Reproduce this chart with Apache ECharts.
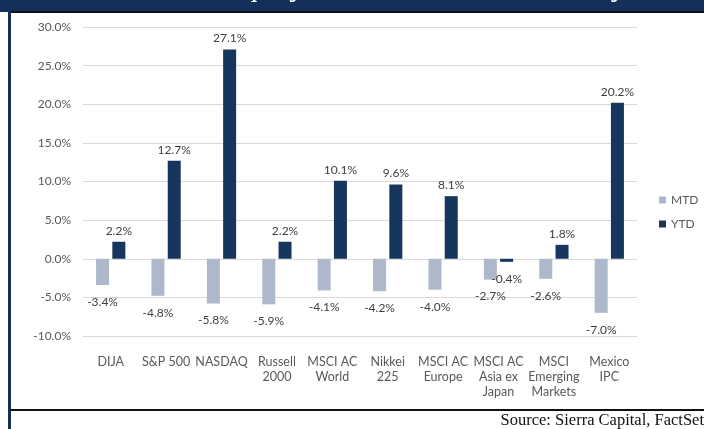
<!DOCTYPE html>
<html>
<head>
<meta charset="utf-8">
<script src="https://cdn.jsdelivr.net/npm/echarts@6/dist/echarts.min.js"></script>
<style>
  html, body { margin: 0; padding: 0; background: #fff; }
  #returnsBar { width: 704px; height: 429px; }
</style>
</head>
<body>
<div id="returnsBar"></div>
<script>
const categories = ['DIJA', 'S&P 500', 'NASDAQ', 'Russell\n2000', 'MSCI AC\nWorld', 'Nikkei\n225', 'MSCI AC\nEurope', 'MSCI AC\nAsia ex\nJapan', 'MSCI\nEmerging\nMarkets', 'Mexico\nIPC'];
const mtdValues = [-3.4, -4.8, -5.8, -5.9, -4.1, -4.2, -4.0, -2.7, -2.6, -7.0];
const ytdValues = [2.2, 12.7, 27.1, 2.2, 10.1, 9.6, 8.1, -0.4, 1.8, 20.2];
const yTicks = { min: -10, max: 30, step: 5 };

const pct = v => v.toFixed(1) + '%';
// negative bars get their label under the bar end, like excel "outside end"
const withLabels = arr => arr.map(v => v < 0
  ? { value: v, label: { position: 'bottom', distance: 11 } }
  : { value: v });

const myChart = echarts.init(document.getElementById('returnsBar'));
const option = {
  animation: false,
  textStyle: { fontFamily: 'Lato' },
  grid: { left: 83, right: 67, top: 27, bottom: 93 },
  legend: {
    orient: 'vertical',
    left: 654,
    top: 189,
    itemWidth: 7,
    itemHeight: 7,
    itemGap: 12,
    icon: 'rect',
    textStyle: { color: '#595959', fontSize: 12, fontFamily: 'Lato' },
    data: ['MTD', 'YTD']
  },
  xAxis: {
    type: 'category',
    data: categories,
    axisLine: { show: false },
    axisTick: { show: false },
    axisLabel: {
      color: '#595959',
      fontSize: 12.5,
      lineHeight: 15,
      margin: 18,
      verticalAlign: 'top',
      interval: 0
    }
  },
  yAxis: {
    type: 'value',
    min: yTicks.min,
    max: yTicks.max,
    interval: yTicks.step,
    axisLabel: { color: '#595959', fontSize: 12, margin: 12, formatter: pct },
    axisLine: { show: false },
    axisTick: { show: false },
    splitLine: { lineStyle: { color: '#d9d9d9', width: 1 } }
  },
  series: [
    {
      name: 'MTD',
      type: 'bar',
      barWidth: 13,
      barGap: '25%',
      itemStyle: { color: '#adb9ca' },
      label: { show: true, position: 'top', distance: 5, color: '#404040', fontSize: 12, formatter: p => pct(p.value) },
      data: withLabels(mtdValues)
    },
    {
      name: 'YTD',
      type: 'bar',
      barWidth: 13,
      itemStyle: { color: '#17365d' },
      label: { show: true, position: 'top', distance: 5, color: '#404040', fontSize: 12, formatter: p => pct(p.value) },
      data: withLabels(ytdValues)
    }
  ],
  graphic: [
    { type: 'rect', shape: { x: 0, y: 0, width: 704, height: 12 }, style: { fill: '#14305a' }, silent: true },
    {
      type: 'text', left: 30, top: -27,
      style: { text: 'Chart 2: Global Equity Markets Retreated in May', fill: '#fff', font: '30px "Liberation Serif"' },
      silent: true
    },
    { type: 'rect', shape: { x: 10, y: 11, width: 694, height: 2 }, style: { fill: '#111' }, silent: true },
    { type: 'rect', shape: { x: 8, y: 11, width: 3, height: 418 }, style: { fill: '#14305a' }, silent: true },
    { type: 'rect', shape: { x: 10, y: 409, width: 694, height: 2 }, style: { fill: '#111' }, silent: true },
    {
      type: 'text', right: 0, top: 412,
      style: { text: 'Source: Sierra Capital, FactSet', fill: '#111', font: '16.5px "Liberation Serif"' },
      silent: true
    }
  ]
};
myChart.setOption(option);
</script>
</body>
</html>
